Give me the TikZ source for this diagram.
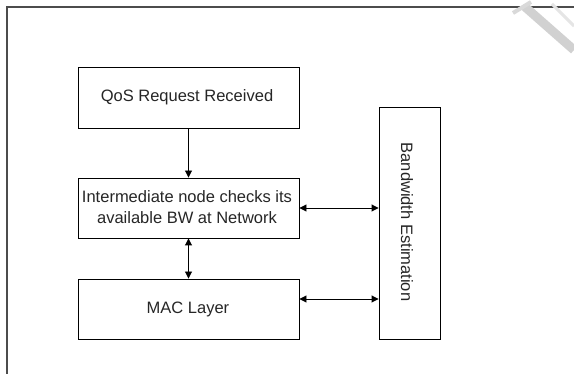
\documentclass[tikz,border=0pt]{standalone}
\usepackage{fontspec}
\setmainfont{Liberation Sans}
\usetikzlibrary{arrows.meta}
\begin{document}
\begin{tikzpicture}[x=1pt,y=-1pt,
  blockbox/.style={draw=black,line width=0.9pt,fill=white,inner sep=0pt},
  flow/.style={line width=0.9pt,-{Triangle[length=7pt,width=7pt]}},
  twoway/.style={line width=0.9pt,{Triangle[length=7pt,width=7pt]}-{Triangle[length=7pt,width=7pt]}},
  label/.style={font=\fontsize{16.5}{21}\selectfont,align=center,text=black!85}]
  \useasboundingbox (0,0) rectangle (574,374);
  \fill[white] (0,0) rectangle (574,374);
  % page frame, open to the right and bottom
  \draw[line width=1.4pt,black!70] (7,374) -- (7,7) -- (574,7);
  % faint mark in the top right corner
  \draw[line width=9pt,black!18] (524,6) -- (574,50);
  \draw[line width=4pt,black!15] (513,13) -- (531,2);
  \draw[line width=3pt,black!10] (552,4) -- (574,26);
  % blocks
  \node[blockbox,minimum width=221pt,minimum height=61pt] (qos) at (188.5,97.5) {};
  \node[label] (qost) at (187,97) {QoS Request Received};
  \node[blockbox,minimum width=221pt,minimum height=60pt] (inter) at (188.5,208) {};
  \node[label] (intert) at (187,207.5) {Intermediate node checks its\\available BW at Network};
  \node[blockbox,minimum width=221pt,minimum height=60pt] (mac) at (188.5,309) {};
  \node[label] (mact) at (188,309) {MAC Layer};
  \node[blockbox,minimum width=61pt,minimum height=232pt] (bw) at (409.5,223) {};
  \node[label,rotate=-90] (bwt) at (407,222) {Bandwidth Estimation};
  % connectors
  \draw[flow] (qos.south) -- (inter.north);
  \draw[twoway] (inter.south) -- (mac.north);
  \draw[twoway] (inter.east) -- (inter.east -| bw.west);
  \draw[twoway] (mac.east |- 0,299) -- (bw.west |- 0,299);
\end{tikzpicture}
\end{document}
